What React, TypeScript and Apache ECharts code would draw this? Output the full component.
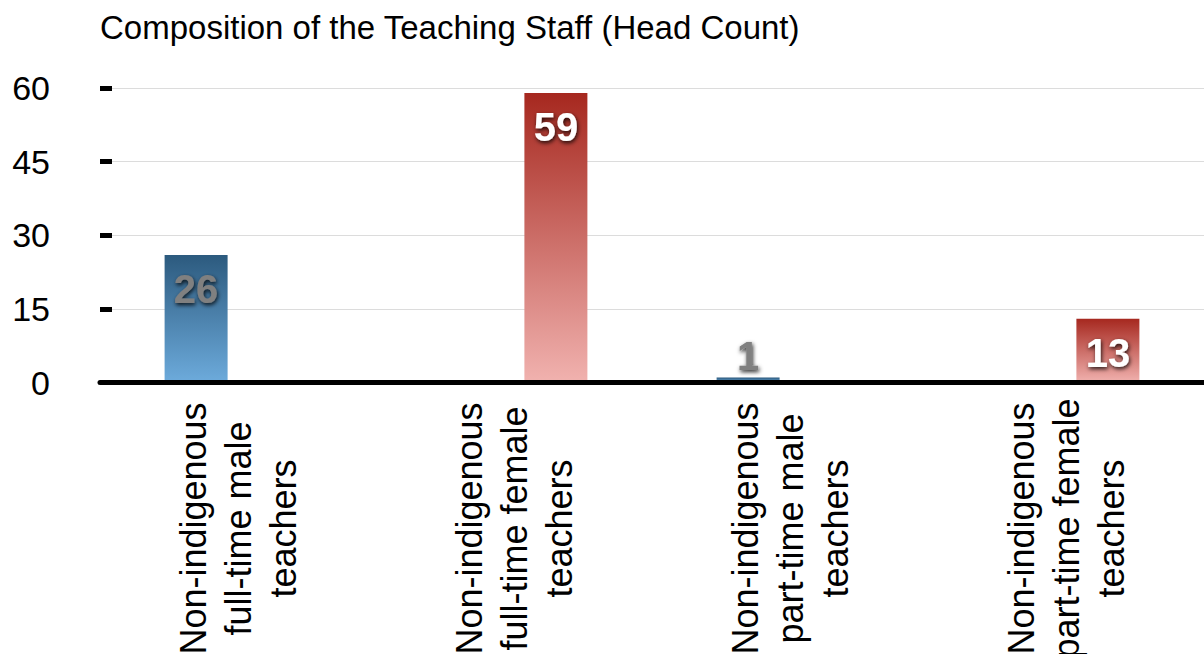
import React, { useEffect, useRef } from "react";
import * as echarts from "echarts";

const categories = [
  "Non-indigenous\nfull-time male\nteachers",
  "Non-indigenous\nfull-time female\nteachers",
  "Non-indigenous\npart-time male\nteachers",
  "Non-indigenous\npart-time female\nteachers",
];
const maleValues = [26, null, 1, null];
const femaleValues = [null, 59, null, 13];
const titleText = "Composition of the Teaching Staff (Head Count)";

export default function App() {
  const ref = useRef<HTMLDivElement>(null);
  useEffect(() => {
    if (!ref.current) return;
    const chart = echarts.init(ref.current, null, { renderer: "svg" });
    const font = "'Liberation Sans', Arial, Helvetica, sans-serif";
    const labelBase = {
      show: true,
      fontSize: 40,
      fontWeight: "bold" as const,
      fontFamily: font,
      textShadowColor: "rgba(0,0,0,0.85)",
      textShadowBlur: 4,
      textShadowOffsetX: 1,
      textShadowOffsetY: 2,
    };
    chart.setOption({
      animation: false,
      title: {
        text: titleText,
        left: 95,
        top: 6,
        textStyle: { fontSize: 33, fontWeight: "normal", color: "#000", fontFamily: font },
      },
      grid: {
        left: 100,
        right: 0,
        top: 88,
        bottom: 271.5,
        containLabel: false,
        outerBoundsMode: "none",
      },
      xAxis: {
        type: "category",
        data: categories,
        axisLine: { show: true, lineStyle: { color: "#000", width: 5 } },
        axisTick: { show: false },
        axisLabel: {
          interval: 0,
          rotate: 90,
          align: "center",
          verticalAlign: "middle",
          margin: 146,
          fontSize: 36,
          lineHeight: 45,
          color: "#000",
          fontFamily: font,
        },
        z: 10,
      },
      yAxis: {
        type: "value",
        min: 0,
        max: 60,
        interval: 15,
        axisLine: { show: false },
        axisTick: { show: true, inside: true, length: 12, lineStyle: { color: "#000", width: 5 } },
        axisLabel: { fontSize: 34, color: "#000", margin: 50, fontFamily: font },
        splitLine: { show: true, lineStyle: { color: "#dcdcdc", width: 1 } },
      },
      series: [
        {
          name: "Male",
          type: "bar",
          data: maleValues.map((v) =>
            v !== null && v < 5 ? { value: v, label: { position: "top", distance: 2 } } : v
          ),
          barWidth: 63,
          barGap: "33%",
          itemStyle: {
            color: new echarts.graphic.LinearGradient(0, 0, 0, 1, [
              { offset: 0, color: "#2c5a7e" },
              { offset: 1, color: "#6dabdc" },
            ]),
          },
          label: {
            ...labelBase,
            color: "#808080",
            position: "insideTop",
            distance: 14,
          },
        },
        {
          name: "Female",
          type: "bar",
          data: femaleValues,
          barWidth: 63,
          barGap: "33%",
          itemStyle: {
            color: new echarts.graphic.LinearGradient(0, 0, 0, 1, [
              { offset: 0, color: "#a6281f" },
              { offset: 1, color: "#f1b2af" },
            ]),
          },
          label: {
            ...labelBase,
            color: "#ffffff",
            position: "insideTop",
            distance: 14,
          },
        },
      ],
    });
    return () => chart.dispose();
  }, []);
  return (
    <div
      ref={ref}
      style={{ position: "fixed", left: 0, top: 0, width: 1204, height: 654, background: "#fff" }}
    />
  );
}
